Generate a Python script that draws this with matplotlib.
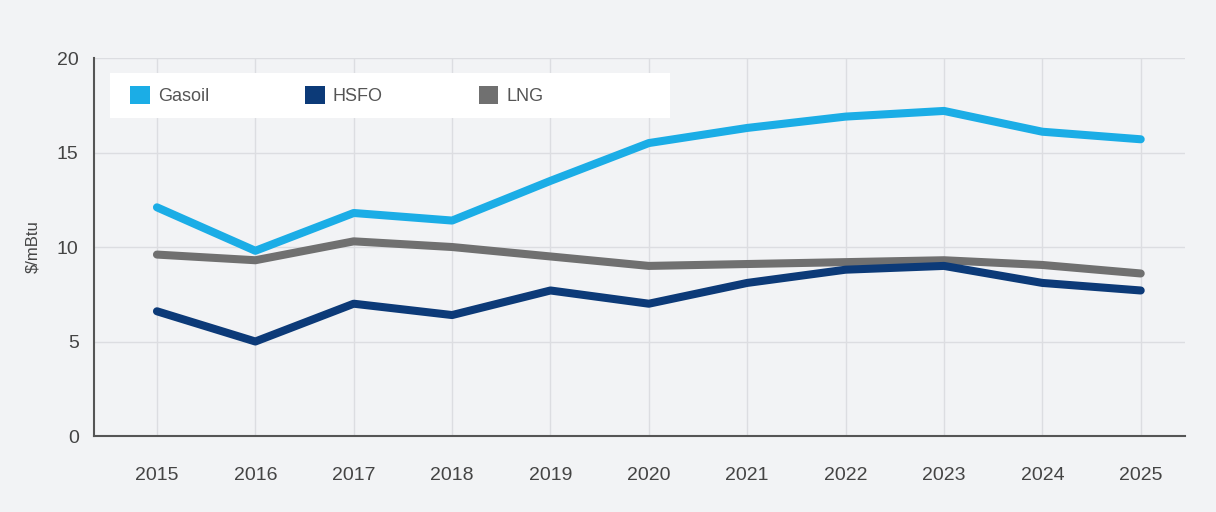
import matplotlib
matplotlib.use('Agg')
import matplotlib.pyplot as plt
from matplotlib.patches import Patch, Rectangle

# Data
years = [2015, 2016, 2017, 2018, 2019, 2020, 2021, 2022, 2023, 2024, 2025]
gasoil = [12.1, 9.8, 11.8, 11.4, 13.5, 15.5, 16.3, 16.9, 17.2, 16.1, 15.7]
hsfo = [6.6, 5.0, 7.0, 6.4, 7.7, 7.0, 8.1, 8.8, 9.0, 8.1, 7.7]
lng = [9.6, 9.3, 10.3, 10.0, 9.5, 9.0, 9.1, 9.2, 9.3, 9.05, 8.6]
y_ticks = [0, 5, 10, 15, 20]

plt.rcParams['font.family'] = ['Liberation Sans', 'DejaVu Sans']

bg = '#f2f3f5'
c_gasoil = '#1badE6'
c_hsfo = '#0c3a78'
c_lng = '#707070'

fig = plt.figure(figsize=(12.16, 5.12), dpi=100, facecolor=bg)
ax = fig.add_axes([0.0773, 0.1484, 0.8972, 0.7383])
ax.set_facecolor(bg)

lw = 5.8
ax.plot(years, lng, color=c_lng, lw=lw, solid_capstyle='round', solid_joinstyle='round', zorder=3)
ax.plot(years, hsfo, color=c_hsfo, lw=lw, solid_capstyle='round', solid_joinstyle='round', zorder=4)
ax.plot(years, gasoil, color=c_gasoil, lw=lw, solid_capstyle='round', solid_joinstyle='round', zorder=5)

ax.set_xlim(2014.36, 2025.45)
ax.set_ylim(0, 20)
ax.set_xticks(years)
ax.set_yticks(y_ticks)
ax.grid(True, color='#dcdde1', lw=1)
ax.set_axisbelow(True)
ax.tick_params(length=0, labelsize=14, labelcolor='#444444', pad=11)
ax.tick_params(axis='x', pad=22)

for s in ['top', 'right']:
    ax.spines[s].set_visible(False)
for s in ['left', 'bottom']:
    ax.spines[s].set_color('#555555')
    ax.spines[s].set_linewidth(1.5)

ax.set_ylabel('\\$/mBtu', fontsize=12, color='#444444', labelpad=12)

# white legend panel
ax.add_patch(Rectangle((0.0147, 0.841), 0.513, 0.119, transform=ax.transAxes,
                       facecolor='white', edgecolor='none', zorder=6))

handles = [Patch(facecolor=c_gasoil, label='Gasoil'),
           Patch(facecolor=c_hsfo, label='HSFO'),
           Patch(facecolor=c_lng, label='LNG')]
leg = ax.legend(handles=handles, ncol=3, loc='center left',
                bbox_to_anchor=(0.033, 0.90), frameon=False,
                fontsize=13, handlelength=1.1, handleheight=1.1,
                handletextpad=0.45, columnspacing=5.3,
                borderaxespad=0, borderpad=0)
leg.set_zorder(7)
for t in leg.get_texts():
    t.set_color('#555555')

fig.savefig('out.png', dpi=100, facecolor=bg)
